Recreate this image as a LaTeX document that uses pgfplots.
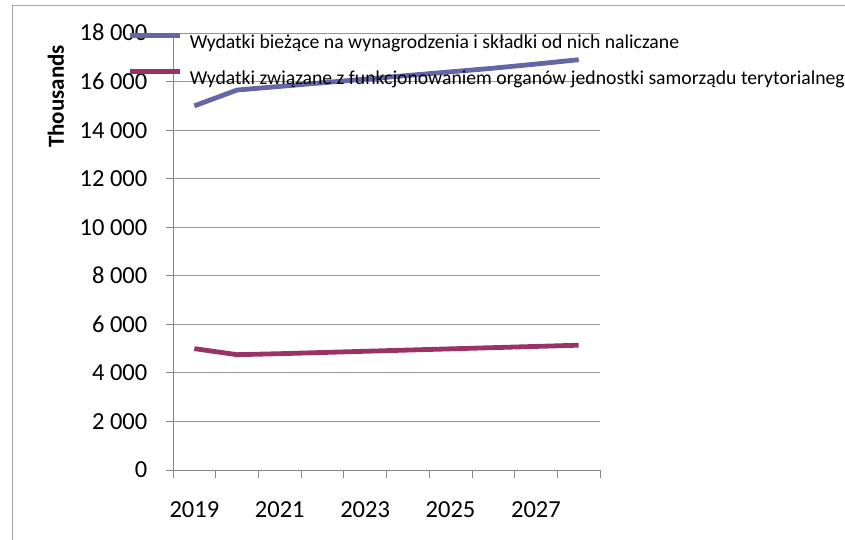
\documentclass[border=0pt]{standalone}
\usepackage{fontspec}
\setmainfont{Carlito}
\usepackage{pgfplots}
\pgfplotsset{compat=1.18}

\definecolor{serblue}{RGB}{102,102,166}
\definecolor{serred}{RGB}{153,51,102}
\definecolor{axgray}{RGB}{134,134,134}
\definecolor{gridgray}{RGB}{150,150,150}
\definecolor{framegray}{RGB}{165,165,165}

\begin{document}
\begin{tikzpicture}
  \useasboundingbox (0pt,0pt) rectangle (845pt,540pt);
  \clip (0pt,0pt) rectangle (845pt,540pt);
  % chart frame (cut off at right and bottom)
  \draw[framegray, line width=1pt] (12pt,-10pt) -- (12pt,534pt) -- (860pt,534pt);

  \begin{axis}[
    at={(173pt,70pt)}, anchor=south west,
    scale only axis, width=427pt, height=437pt,
    xmin=0, xmax=10, ymin=0, ymax=18000,
    axis x line*=bottom, axis y line*=left,
    axis line style={axgray, line width=0.8pt},
    tick align=outside, major tick length=7.5pt,
    tick style={axgray, line width=0.8pt},
    xtick={0,...,10}, xticklabels={},
    extra x ticks={0.5,2.5,4.5,6.5,8.5},
    extra x tick labels={2019,2021,2023,2025,2027},
    extra x tick style={major tick length=0pt, grid=none,
      xticklabel style={anchor=base, inner sep=0pt, yshift=-48pt}},
    ytick={0,2000,...,18000},
    scaled ticks=false,
    /pgf/number format/.cd, 1000 sep={\ }, assume math mode=true,
    /pgfplots/.cd,
    yticklabel style={anchor=base east, inner sep=0pt, xshift=-18pt, yshift=-8pt},
    ticklabel style={font=\fontsize{24.5}{29}\selectfont, text=black},
    ymajorgrids, grid style={gridgray, line width=0.8pt},
    ylabel={Thousands},
    ylabel style={at={(rel axis cs:-0.274,0.855)}, anchor=center,
      font=\fontsize{23}{27}\selectfont\bfseries},
    legend cell align=left,
    legend image code/.code={\draw[#1] (0pt,9pt) -- (50pt,9pt);},
    legend style={at={(rel axis cs:-0.1054,1.0)}, anchor=north west,
      draw=none, fill=none, inner sep=0pt, outer sep=0pt,
      row sep=15pt, column sep=7pt,
      nodes={inner sep=0pt, text height=14pt, text depth=5pt},
      font=\fontsize{19.7}{23}\selectfont},
  ]
    \addplot[serblue, line width=4.8pt] coordinates {
      (0.5,15000) (1.5,15650) (2.5,15800) (3.5,15950) (4.5,16100)
      (5.5,16250) (6.5,16400) (7.5,16550) (8.5,16720) (9.5,16900)
    };
    \addlegendentry{Wydatki bieżące na wynagrodzenia i składki od nich naliczane}
    \addplot[serred, line width=4.8pt] coordinates {
      (0.5,5000) (1.5,4750) (2.5,4790) (3.5,4840) (4.5,4890)
      (5.5,4940) (6.5,4990) (7.5,5040) (8.5,5090) (9.5,5140)
    };
    \addlegendentry{Wydatki związane z funkcjonowaniem organów jednostki samorządu terytorialnego}
  \end{axis}
\end{tikzpicture}
\end{document}
